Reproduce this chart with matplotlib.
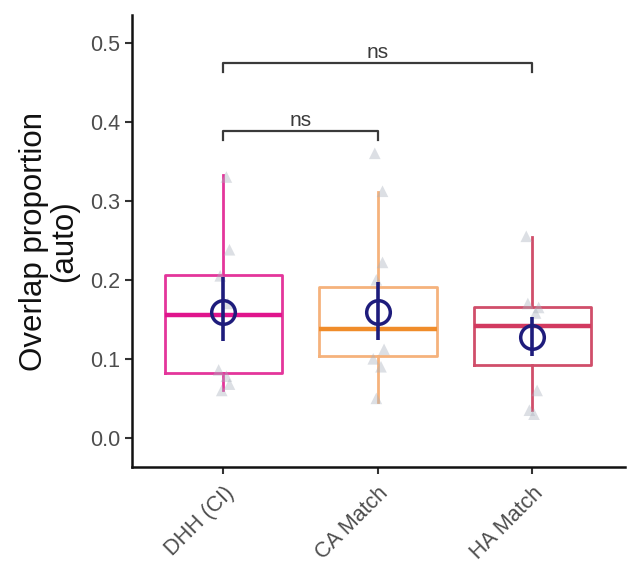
import matplotlib
matplotlib.use("Agg")
import matplotlib.pyplot as plt

plt.rcParams['font.family'] = ['Liberation Sans', 'DejaVu Sans']

# ---- data ----
categories = ["DHH (CI)", "CA Match", "HA Match"]
q1 = [0.082, 0.103, 0.092]
median = [0.156, 0.138, 0.141]
q3 = [0.206, 0.191, 0.166]
whislo = [0.060, 0.046, 0.035]
whishi = [0.333, 0.311, 0.254]
means = [0.159, 0.159, 0.127]
ci_lo = [0.122, 0.124, 0.104]
ci_hi = [0.204, 0.197, 0.153]

points = [
    [0.330, 0.238, 0.205, 0.170, 0.086, 0.078, 0.068, 0.060],
    [0.360, 0.312, 0.222, 0.200, 0.112, 0.100, 0.090, 0.050],
    [0.255, 0.170, 0.165, 0.158, 0.060, 0.035, 0.030],
]
jitter = [
    [0.02, 0.04, -0.02, 0.03, -0.03, 0.02, 0.04, -0.01],
    [-0.02, 0.03, 0.03, -0.01, 0.04, -0.03, 0.02, -0.01],
    [-0.04, -0.03, 0.04, 0.02, 0.03, -0.02, 0.01],
]

comparisons = [(0, 1, 0.388, "ns"), (0, 2, 0.474, "ns")]
yticks = [0.0, 0.1, 0.2, 0.3, 0.4, 0.5]

box_colors = ["#E4359B", "#F5B27C", "#D04E6A"]
med_colors = ["#E0158C", "#F08C2A", "#D23A60"]
navy = "#1E1C7C"

fig = plt.figure(figsize=(6.29, 5.76), dpi=100)
ax = fig.add_axes([0.21, 0.189, 0.784, 0.785])

x = list(range(len(categories)))
for i in x:
    stats = [dict(med=median[i], q1=q1[i], q3=q3[i], whislo=whislo[i],
                  whishi=whishi[i], fliers=[])]
    ax.bxp(stats, positions=[i], widths=0.76, showcaps=False,
           boxprops=dict(color=box_colors[i], linewidth=2.0),
           whiskerprops=dict(color=box_colors[i], linewidth=2.0),
           medianprops=dict(color=med_colors[i], linewidth=3.2),
           manage_ticks=False, zorder=2)
    ax.scatter([i + j for j in jitter[i]], points[i], marker="^", s=70,
               color="#A9B0BC", alpha=0.4, edgecolors="none", zorder=3)
    ax.errorbar([i], [means[i]], yerr=[[means[i] - ci_lo[i]], [ci_hi[i] - means[i]]],
                fmt="o", color=navy, ecolor=navy, elinewidth=2.6, capsize=0,
                markersize=17, markerfacecolor="none", markeredgewidth=2.5,
                zorder=5)

for a, b, yv, lab in comparisons:
    ax.plot([a, a, b, b], [yv - 0.011, yv, yv, yv - 0.011],
            color="#3A3A3A", linewidth=1.6, zorder=4)
    ax.text((a + b) / 2, yv + 0.002, lab, ha="center", va="bottom",
            fontsize=15, color="#3A3A3A")

ax.set_xlim(-0.59, 2.60)
ax.set_ylim(-0.037, 0.535)
ax.set_yticks(yticks)
ax.set_yticklabels([f"{t:.1f}" for t in yticks])
ax.set_xticks(x)
ax.set_xticklabels(categories, rotation=45, ha="right", rotation_mode="anchor")
ax.tick_params(axis="both", labelsize=15.5, colors="#4D4D4D", length=5, width=1.5)
ax.tick_params(axis="both", color="#333333")
ax.tick_params(axis="x", pad=6)

for s in ["top", "right"]:
    ax.spines[s].set_visible(False)
for s in ["left", "bottom"]:
    ax.spines[s].set_linewidth(1.8)
    ax.spines[s].set_color("#111111")

ax.set_ylabel("Overlap proportion\n(auto)", fontsize=22.5, color="#111111",
              linespacing=1.0, labelpad=8)

fig.savefig("out.png", dpi=100)
